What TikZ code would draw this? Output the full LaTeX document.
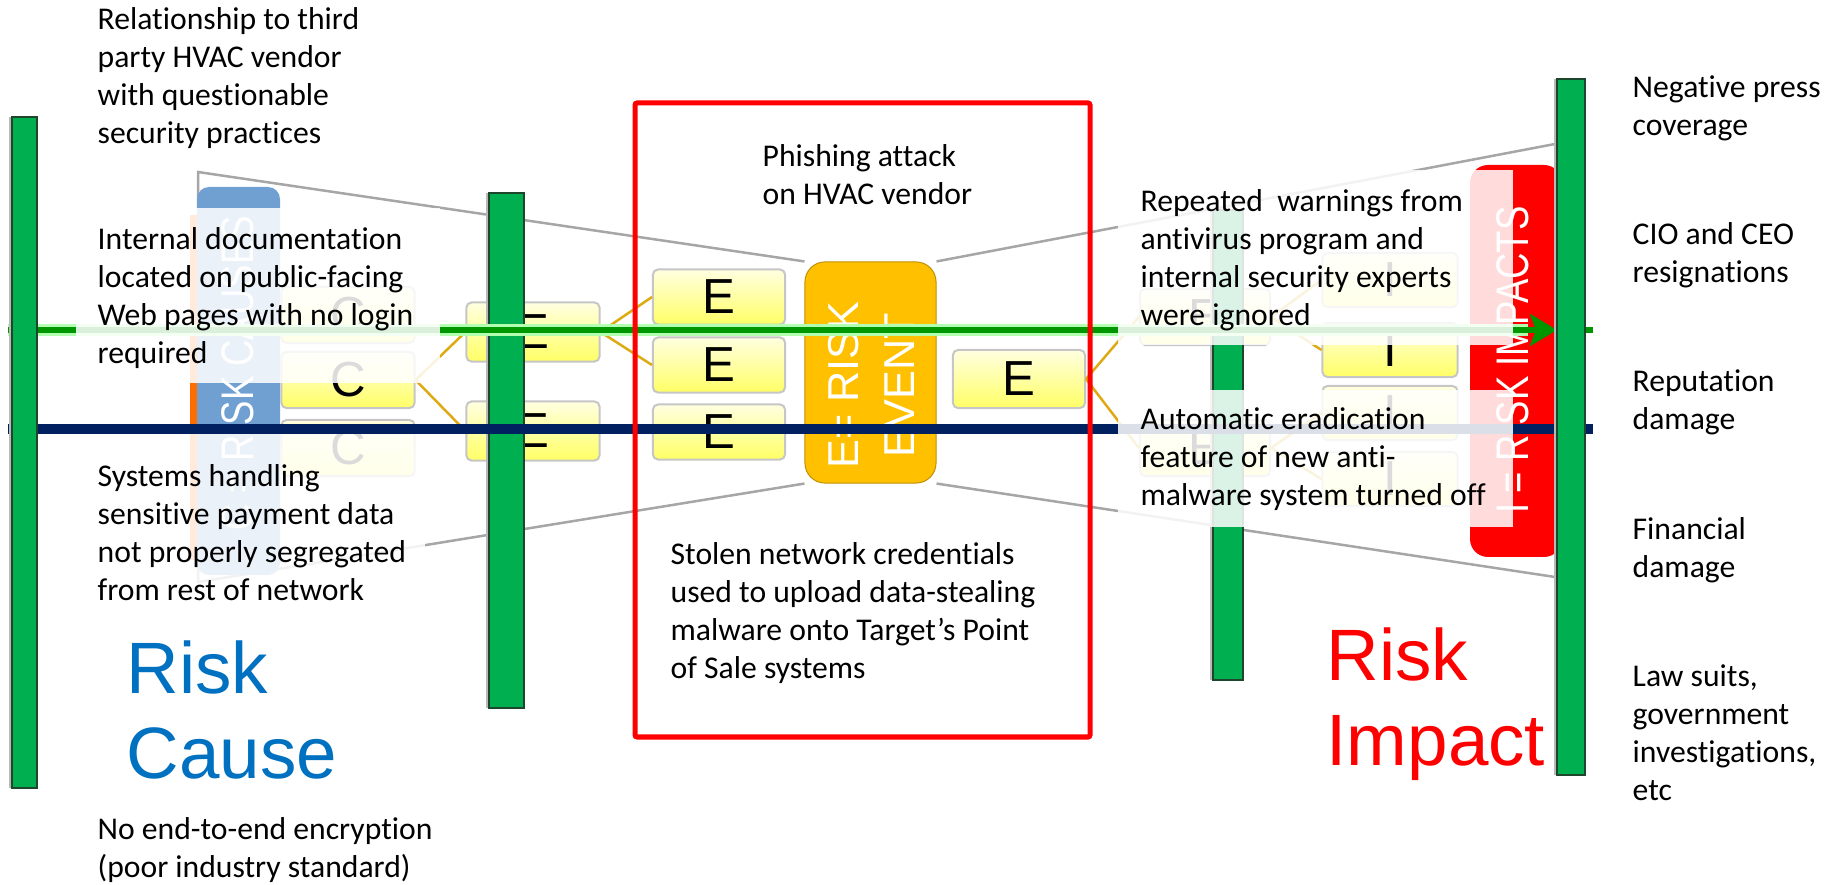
\documentclass[tikz,border=0pt]{standalone}
\usepackage{graphicx}
\usepackage{fontspec}
\setmainfont{Carlito}[Ligatures=NoCommon]
\newfontfamily\arialfont{Liberation Sans}
\usetikzlibrary{arrows.meta}

\definecolor{barGreen}{RGB}{0,176,80}
\definecolor{barEdge}{RGB}{30,70,45}
\definecolor{lineGreen}{RGB}{0,150,0}
\definecolor{lineNavy}{RGB}{0,32,96}
\definecolor{eventOrange}{RGB}{255,192,0}
\definecolor{causeBlue}{RGB}{0,112,192}
\definecolor{causeBox}{RGB}{112,160,210}
\definecolor{linkGold}{RGB}{222,170,20}

\tikzset{
  ebox/.style={draw=gray!45, line width=0.02cm, rounded corners=0.05cm,
    top color=yellow!12, bottom color=yellow!60, minimum width=1.33cm,
    minimum height=0.56cm, inner sep=0, font=\arialfont\fontsize{14}{14}\selectfont},
  goldlink/.style={linkGold, line width=0.025cm},
  greenbar/.style={fill=barGreen, draw=barEdge, line width=0.02cm},
  notetext/.style={anchor=north west, align=left, inner sep=0,
    font=\fontsize{9}{10.8}\selectfont},
  washbox/.style={fill=white, fill opacity=0.86},
  sidelabel/.style={rotate=90, text=white, inner sep=0,
    font=\arialfont\fontsize{13}{13}\selectfont},
}

\begin{document}
\begin{tikzpicture}[x=0.01cm, y=-0.01cm]
% canvas in pixel units, y runs downwards
\useasboundingbox (0,0) rectangle (1835,885);

% 1. Risk event in the knot of the bow tie
\node[fill=eventOrange, draw=eventOrange!75!black, line width=0.01cm,
      rounded corners=0.2cm, minimum width=1.31cm,
      minimum height=2.21cm, inner sep=0] (ev) at (870.5,372.5) {};
\node[rotate=90, text=white, align=center, inner sep=0,
      font=\arialfont\fontsize{12.3}{15.9}\selectfont] (evtext) at (871,385) {E= RISK\\EVENT};

% 2. Bow tie outline
\draw[gray!70, line width=0.025cm] (ev.north west) -- (198,172) -- (198,582) -- (ev.south west);
\draw[gray!70, line width=0.025cm] (ev.north east) -- (1555,144) (1555,577) -- (ev.south east);

% 3. Cause and impact panels
\fill[orange!85!red] (190,215) rectangle (206,560);
\fill[causeBox, rounded corners=0.12cm] (197,187) rectangle (280,575);
\node[sidelabel] (causes) at (238,373) {\scalebox{0.8}[1]{C = RISK CAUSES}};
\fill[red, rounded corners=0.18cm] (1470,165) rectangle (1562,557);
\node[sidelabel] (impacts) at (1513,360) {\scalebox{0.8}[1]{I = RISK IMPACTS}};
\draw[black, line width=0.03cm] (1555,144) -- (1555,577);

% 4. Cause, event and impact boxes
\foreach \n/\y in {1/315,2/380,3/448}
  \node[ebox] (c\n) at (348,\y) {C};
\foreach \n/\y in {1/332,2/431}
  \node[ebox, minimum height=0.59cm] (ea\n) at (533,\y) {E};
\foreach \n/\y in {1/297,2/365,3/432}
  \node[ebox, minimum width=1.32cm, minimum height=0.55cm] (eb\n) at (719,\y) {E};
\node[ebox, minimum width=1.32cm, minimum height=0.58cm] (ec) at (1019,379) {E};
\foreach \n/\y in {1/317,2/448}
  \node[ebox, minimum width=1.30cm] (ed\n) at (1205,\y) {E};
\foreach \n/\y in {1/280,2/350,3/413,4/479}
  \node[ebox, minimum width=1.35cm, minimum height=0.54cm] (i\n) at (1390,\y) {I};

% links between the boxes
\draw[goldlink] (c2.east) -- (ea1.west) (c2.east) -- (ea2.west);
\draw[goldlink] (ea1.east) -- (eb1.west) (ea1.east) -- (eb2.west) (ea2.east) -- (eb3.west);
\draw[goldlink] (ec.east) -- (ed1.west) (ec.east) -- (ed2.west);
\draw[goldlink] (ed1.east) -- (i1.west) (ed1.east) -- (i2.west)
                (ed2.east) -- (i3.west) (ed2.east) -- (i4.west);

% 5. Inner barriers (below the risk lines)
\foreach \xl/\yt/\yb/\ww in {489/193/708/35, 1213/210/680/30} {
  \fill[gray!55] (\xl-3,\yt) rectangle (\xl,\yb);
  \draw[greenbar] (\xl,\yt) rectangle (\xl+\ww,\yb);
}

% 6. Risk lines
\coordinate (gL) at (8,330);
\coordinate (gR) at (1557,330);
\coordinate (nL) at (8,429);
\coordinate (nR) at (1593,429);
\draw[green!30, line width=0.12cm] (gL) -- (1528,330);
\draw[lineGreen, line width=0.065cm, -{Stealth[length=0.27cm, width=0.32cm, inset=0.06cm]}] (gL) -- (gR);
\draw[lineGreen, line width=0.065cm] (1583,330) -- (1593,330);
\draw[lineNavy, line width=0.09cm] (nL) -- (nR);

% 7. Outer barriers (above the risk lines)
\foreach \xl/\yt/\yb/\ww in {12/117/788/25, 1557/79/775/28} {
  \fill[gray!55] (\xl-3,\yt) rectangle (\xl,\yb);
  \draw[greenbar] (\xl,\yt) rectangle (\xl+\ww,\yb);
}

% 8. Frame round the attack steps
\draw[red, line width=0.05cm, rounded corners=0.02cm] (635,103) rectangle (1090,737);

% 9. Pale backing behind the callouts
\fill[washbox] (76,208) rectangle (440,383);
\fill[washbox] (76,434) rectangle (425,600);
\fill[washbox] (1118,170) rectangle (1513,345);
\fill[washbox] (1118,390) rectangle (1513,527);

% 10. Callout texts
\node[notetext] (vendor) at (97,7) {Relationship to third\\party HVAC vendor\\with questionable\\security practices};
\node[notetext] (docs) at (97,227) {Internal documentation\\located on public-facing\\Web pages with no login\\required};
\node[notetext] (payment) at (97,464) {Systems handling\\sensitive payment data\\not properly segregated\\from rest of network};
\node[notetext] (encrypt) at (97,817) {No end-to-end encryption\\(poor industry standard)};
\node[notetext] (phishing) at (762,144) {Phishing attack\\on HVAC vendor};
\node[notetext] (stolen) at (670,542) {Stolen network credentials\\used to upload data-stealing\\malware onto Target’s Point\\of Sale systems};
\node[notetext] (warnings) at (1140,189) {Repeated\ \ warnings from\\antivirus program and\\internal security experts\\were ignored};
\node[notetext] (eradicate) at (1140,407) {Automatic eradication\\feature of new anti-\\malware system turned off};

\node[notetext] (press) at (1632,75) {Negative press\\coverage};
\node[notetext] (resign) at (1632,222) {CIO and CEO\\resignations};
\node[notetext] (reputation) at (1632,369) {Reputation\\damage};
\node[notetext] (financial) at (1632,517) {Financial\\damage};
\node[notetext] (lawsuits) at (1632,664) {Law suits,\\government\\investigations,\\etc};

% 11. Section headings
\node[anchor=north west, align=left, inner sep=0, text=causeBlue,
      font=\arialfont\fontsize{20.7}{24.2}\selectfont] (riskcause) at (126,640) {Risk\\Cause};
\node[anchor=north west, align=left, inner sep=0, text=red,
      font=\arialfont\fontsize{20.7}{24.2}\selectfont] (riskimpact) at (1326,627) {Risk\\Impact};

\end{tikzpicture}
\end{document}
